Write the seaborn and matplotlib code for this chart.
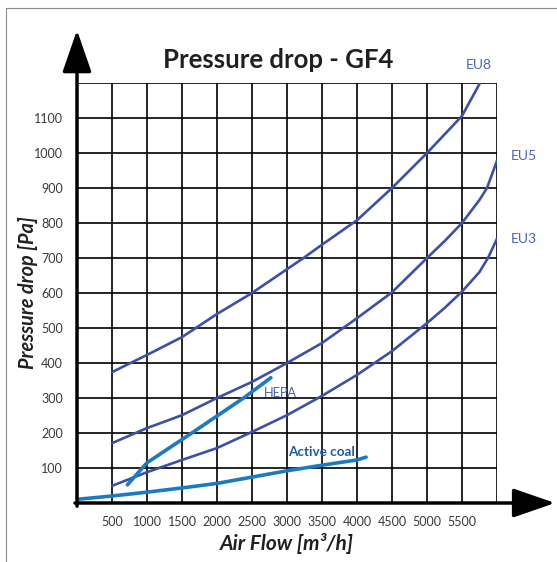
import pandas as pd
import numpy as np
import matplotlib
matplotlib.use("Agg")
import matplotlib.pyplot as plt
import seaborn as sns
from matplotlib.lines import Line2D

# values: air flow [m3/h] -> pressure drop [Pa]
eu8_flow = [500, 1000, 1500, 2000, 2500, 3000, 3250, 3500, 4000, 4500, 5000, 5500, 5757]
eu8_drop = [374, 423, 474, 540, 600, 668, 702, 738, 808, 900, 1000, 1106, 1200]
eu5_flow = [500, 1000, 1500, 2000, 2500, 3000, 3500, 4000, 4500, 5000, 5250, 5500, 5750, 5857, 6000]
eu5_drop = [171, 214, 251, 300, 346, 400, 457, 528, 602, 700, 748, 800, 866, 900, 978]
eu3_flow = [500, 1000, 1500, 2000, 2500, 3000, 3500, 4000, 4500, 5000, 5250, 5500, 5750, 5871, 6000]
eu3_drop = [49, 88, 123, 157, 203, 251, 306, 366, 434, 514, 557, 604, 660, 700, 755]
hepa_flow = [720, 1000, 1640, 2380, 2770]
hepa_drop = [52, 115, 200, 300, 358]
coal_flow = [29, 500, 1000, 1500, 2000, 2500, 3000, 3500, 4000, 4130]
coal_drop = [11, 20, 31, 43, 56, 74, 92, 108, 123, 131]

x_ticks = list(range(0, 6001, 500))
y_ticks = list(range(0, 1201, 100))
x_labels = [str(v) if 0 < v < 6000 else "" for v in x_ticks]
y_labels = [str(v) if 0 < v < 1200 else "" for v in y_ticks]

series = {
    "EU8": (eu8_flow, eu8_drop),
    "EU5": (eu5_flow, eu5_drop),
    "EU3": (eu3_flow, eu3_drop),
    "HEPA": (hepa_flow, hepa_drop),
    "Active coal": (coal_flow, coal_drop),
}
df = pd.concat(
    [pd.DataFrame({"flow": f, "drop": d, "filter": name}) for name, (f, d) in series.items()],
    ignore_index=True,
)

eu_col = "#3b50a8"
hepa_col = "#1a7ac2"
palette = {"EU8": eu_col, "EU5": eu_col, "EU3": eu_col, "HEPA": hepa_col, "Active coal": hepa_col}
sizes = {"EU8": 1.9, "EU5": 1.9, "EU3": 1.9, "HEPA": 2.6, "Active coal": 2.6}

sns.set_style("white")
plt.rcParams["font.family"] = ["Lato", "DejaVu Sans"]

fig = plt.figure(figsize=(5.57, 5.62), dpi=100)
ax = fig.add_axes([77 / 557, 59 / 562, 420 / 557, 420 / 562])

sns.lineplot(data=df, x="flow", y="drop", hue="filter", size="filter", palette=palette,
             sizes=sizes, sort=False, estimator=None, legend=False, ax=ax)
for ln in ax.lines:
    ln.set_solid_capstyle("round")
    ln.set_solid_joinstyle("round")

ax.set_xlim(0, 6000)
ax.set_ylim(0, 1200)
ax.set_xticks(x_ticks)
ax.set_xticklabels(x_labels)
ax.set_yticks(y_ticks)
ax.set_yticklabels(y_labels)
ax.tick_params(length=0, labelsize=9, labelcolor="#3a3a3a")
ax.tick_params(axis="x", pad=9)
ax.tick_params(axis="y", pad=10)
ax.grid(True, color="black", lw=1.2)
ax.set_axisbelow(True)
for s in ax.spines.values():
    s.set_visible(False)
ax.set_xlabel("")
ax.set_ylabel("")

# thick axes with arrow heads
arrow = dict(arrowstyle="-|>,head_width=0.9,head_length=2.6", mutation_scale=10,
             lw=2.5, color="black", shrinkA=0, shrinkB=0)
ax.annotate("", xy=(0, 1351), xytext=(0, -9), arrowprops=arrow, annotation_clip=False)
ax.annotate("", xy=(6829, 0), xytext=(-29, 0), arrowprops=arrow, annotation_clip=False)

# curve labels
lab_col = "#4a64b4"
ax.annotate("EU8", (eu8_flow[-1], eu8_drop[-1]), xytext=(-1, 13), textcoords="offset points",
            ha="center", va="center", fontsize=10, color=lab_col, annotation_clip=False)
ax.annotate("EU5", (eu5_flow[-1], eu5_drop[-1]), xytext=(19.5, 3.6), textcoords="offset points",
            ha="center", va="center", fontsize=10, color=lab_col, annotation_clip=False)
ax.annotate("EU3", (eu3_flow[-1], eu3_drop[-1]), xytext=(19.5, -0.5), textcoords="offset points",
            ha="center", va="center", fontsize=10, color=lab_col, annotation_clip=False)
ax.annotate("HEPA", (hepa_flow[-1], hepa_drop[-1]), xytext=(7, -11), textcoords="offset points",
            ha="center", va="center", fontsize=9.2, color=lab_col)
ax.annotate("Active coal", (coal_flow[-1], coal_drop[-1]), xytext=(-32, 4), textcoords="offset points",
            ha="center", va="center", fontsize=9.7, color="#1f5c9e", fontweight="bold")

fig.text(278 / 557, 1 - 60 / 562, "Pressure drop - GF4", ha="center", va="center",
         fontsize=18.5, fontweight="bold", color="#231f20")
fig.text(287 / 557, 1 - 543 / 562, "Air Flow [m³/h]", ha="center", va="center",
         fontsize=15, fontweight="bold", fontstyle="italic", color="#231f20")
fig.text(28 / 557, 1 - 293 / 562, "Pressure drop [Pa]", ha="center", va="center", rotation=90,
         fontsize=14.3, fontweight="bold", fontstyle="italic", color="#231f20")

# thin frame along top and left edge
fig.add_artist(Line2D([5.5 / 557, 5.5 / 557], [0, 1 - 8 / 562], color="#8a8a8a", lw=0.8))
fig.add_artist(Line2D([5.5 / 557, 1], [1 - 8 / 562, 1 - 8 / 562], color="#8a8a8a", lw=0.8))

fig.savefig("out.png", dpi=100)
